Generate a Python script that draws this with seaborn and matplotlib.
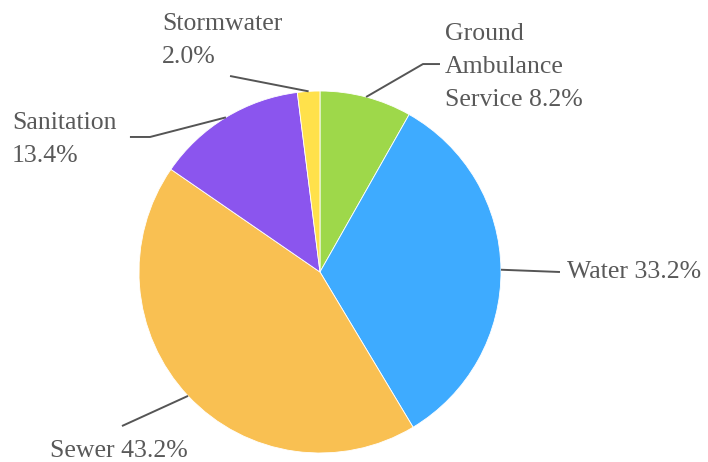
import numpy as np
import matplotlib
matplotlib.use("Agg")
import matplotlib.pyplot as plt
import seaborn as sns

# data
categories = ["Ground\nAmbulance\nService", "Water", "Sewer", "Sanitation", "Stormwater"]
shares = [8.2, 33.2, 43.2, 13.4, 2.0]
colors = ["#9ed84a", "#3eabff", "#f9c052", "#8b55ee", "#ffe14b"]

sns.set_theme(style="white")
plt.rcParams["font.family"] = ["Liberation Serif", "DejaVu Serif"]

fig = plt.figure(figsize=(7.08, 4.62), dpi=100)
ax = fig.add_axes([0.1963, 0.0195, 0.5113, 0.7835])

wedges, _ = ax.pie(shares, colors=colors, startangle=90, counterclock=False,
                   radius=1, wedgeprops=dict(edgecolor="white", linewidth=0.6))
ax.set_xlim(-1, 1)
ax.set_ylim(-1, 1)
ax.set_aspect("equal")
ax.axis("off")

# label layout: (leader path after the edge point, text position, alignment)
layout = [
    ([(0.569, 1.149), (0.663, 1.149)], (0.691, 1.132), "left"),
    ([(1.326, 0.0)], (1.365, 0.0), "left"),
    ([(-1.094, -0.851)], (-1.11, -0.99), "center"),
    ([(-0.939, 0.746), (-1.05, 0.746)], (-1.702, 0.73), "left"),
    ([(-0.497, 1.083)], (-0.873, 1.278), "left"),
]

line_col = "#555555"
text_col = "#595959"
for w, name, val, (path, tpos, ha) in zip(wedges, categories, shares, layout):
    mid = np.deg2rad((w.theta1 + w.theta2) / 2)
    pts = [(np.cos(mid), np.sin(mid))] + path
    xs, ys = zip(*pts)
    ax.plot(xs, ys, color=line_col, lw=1.4, clip_on=False, solid_capstyle="butt")
    sep = "\n" if name in ("Sanitation", "Stormwater") else " "
    ax.text(tpos[0], tpos[1], f"{name}{sep}{val:.1f}%", ha=ha, va="center",
            multialignment="left", fontsize=18.5, color=text_col,
            linespacing=1.65, clip_on=False)

fig.savefig("out.png", dpi=100)
